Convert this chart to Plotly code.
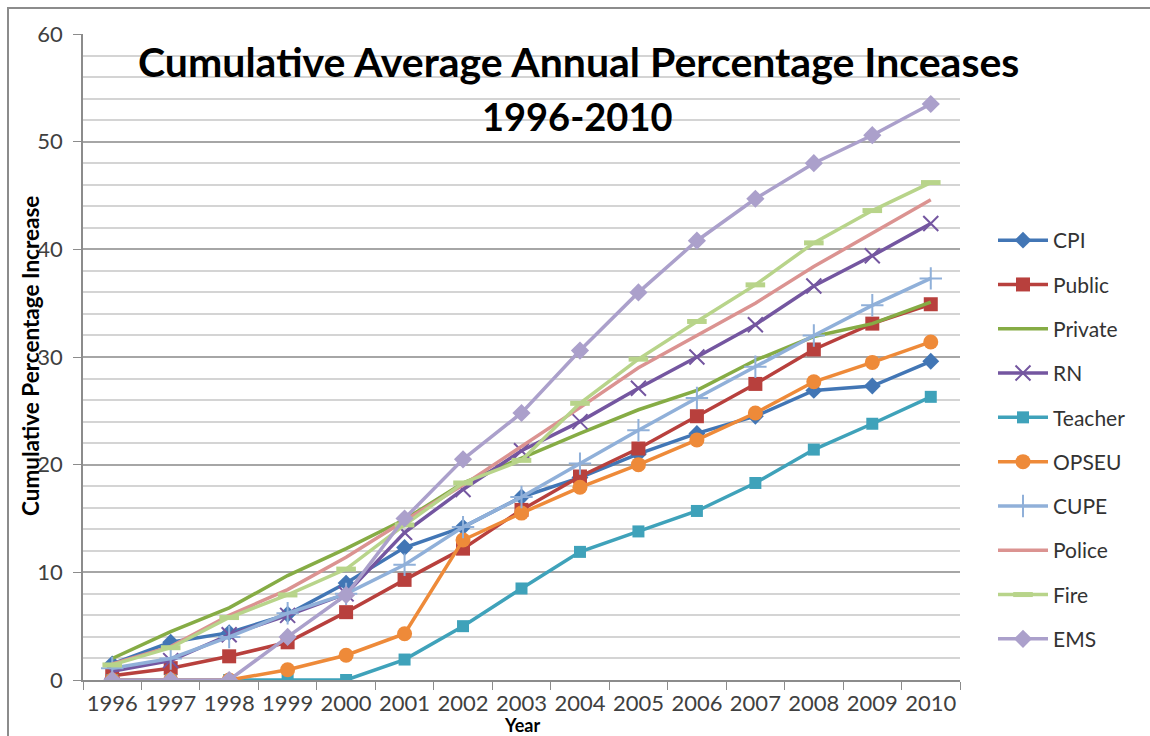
import plotly.graph_objects as go

# Categories
years = [str(y) for y in range(1996, 2011)]

# Cumulative percentage increase per group
cpi     = [1.5, 3.5, 4.4, 6.1, 9.0, 12.3, 14.2, 17.0, 18.8, 21.0, 22.9, 24.5, 26.9, 27.3, 29.6]
public  = [0.4, 1.1, 2.2, 3.5, 6.3, 9.3, 12.2, 15.8, 18.9, 21.5, 24.5, 27.5, 30.7, 33.1, 34.9]
private = [2.0, 4.5, 6.7, 9.7, 12.2, 14.9, 18.3, 20.6, 22.9, 25.1, 26.9, 29.7, 31.9, 33.1, 35.1]
rn      = [0.8, 1.8, 4.2, 6.0, 8.0, 13.7, 17.7, 21.3, 24.0, 27.1, 30.0, 33.0, 36.6, 39.4, 42.4]
teacher = [0.0, 0.0, 0.0, 0.0, 0.0, 1.9, 5.0, 8.5, 11.9, 13.8, 15.7, 18.3, 21.4, 23.8, 26.3]
opseu   = [0.0, 0.0, 0.0, 0.95, 2.3, 4.3, 13.0, 15.5, 17.9, 20.0, 22.3, 24.8, 27.7, 29.5, 31.4]
cupe    = [1.1, 2.0, 4.0, 6.2, 8.0, 10.7, 14.2, 17.0, 20.1, 23.2, 26.2, 29.1, 32.0, 34.8, 37.3]
police  = [1.5, 3.1, 6.0, 8.4, 11.4, 14.8, 18.1, 21.7, 25.3, 29.0, 32.0, 35.0, 38.4, 41.5, 44.6]
fire    = [1.4, 3.0, 5.8, 7.9, 10.3, 14.4, 18.3, 20.4, 25.7, 29.8, 33.3, 36.7, 40.6, 43.6, 46.2]
ems     = [0.0, 0.0, 0.0, 4.0, 7.9, 15.0, 20.5, 24.8, 30.6, 36.0, 40.8, 44.7, 48.0, 50.6, 53.5]

series_names = ["CPI", "Public", "Private", "RN", "Teacher",
                "OPSEU", "CUPE", "Police", "Fire", "EMS"]
series_values = [cpi, public, private, rn, teacher,
                 opseu, cupe, police, fire, ems]

styles = {
    "CPI":     dict(color="#4276B5", marker=dict(symbol="diamond", size=13)),
    "Public":  dict(color="#B8403D", marker=dict(symbol="square", size=14)),
    "Private": dict(color="#86AC45", marker=None),
    "RN":      dict(color="#7456A0", marker=dict(symbol="x-thin", size=15,
                                                  line=dict(width=2, color="#7456A0"))),
    "Teacher": dict(color="#3FA2BA", marker=dict(symbol="square", size=12)),
    "OPSEU":   dict(color="#EE8A39", marker=dict(symbol="circle", size=15)),
    "CUPE":    dict(color="#90B0D9", marker=dict(symbol="cross-thin", size=16,
                                                  line=dict(width=2, color="#90B0D9"))),
    "Police":  dict(color="#DB9391", marker=None),
    "Fire":    dict(color="#B8D48A", marker=dict(symbol="line-ew", size=14,
                                                  line=dict(width=5, color="#B8D48A"))),
    "EMS":     dict(color="#ABA0CB", marker=dict(symbol="diamond", size=14)),
}

FONT = "Lato, 'Open Sans', sans-serif"

fig = go.Figure()
for name, vals in zip(series_names, series_values):
    st = styles[name]
    mk = st["marker"]
    if mk is None:
        mode = "lines"
        marker = dict(color=st["color"])
    else:
        mode = "lines+markers"
        marker = dict(color=st["color"], **mk)
    fig.add_trace(go.Scatter(
        x=years, y=vals, name=name, mode=mode,
        line=dict(color=st["color"], width=3.5),
        marker=marker,
        legendgroup=name,
    ))

# plot area in pixels: x 83..960, y 34..680
def px_x(p):
    return (p - 83) / 877.0

def px_y(p):
    return (680 - p) / 646.0

fig.update_layout(
    width=1150, height=736, autosize=False,
    margin=dict(l=83, r=190, t=34, b=56),
    paper_bgcolor="white", plot_bgcolor="white",
    font=dict(family=FONT, color="#404040"),
    showlegend=True,
    legend=dict(
        x=px_x(993), y=px_y(220), xanchor="left", yanchor="top",
        font=dict(size=21, color="#333333", family=FONT),
        tracegroupgap=14, traceorder="grouped", itemwidth=50,
        bgcolor="rgba(0,0,0,0)",
    ),
    xaxis=dict(
        type="category", tickson="boundaries",
        ticks="outside", ticklen=8, tickcolor="#8c8c8c",
        showline=True, linecolor="#8c8c8c", linewidth=1.5,
        showgrid=False, zeroline=False,
        tickfont=dict(size=22, color="#404040", family=FONT),
        tickangle=0, automargin=False,
        ticklabelstandoff=3,
        range=[-0.5, 14.5],
    ),
    yaxis=dict(
        range=[0, 60], dtick=10, tick0=0,
        ticks="outside", ticklen=8, tickcolor="#8c8c8c",
        showline=True, linecolor="#8c8c8c", linewidth=1.5,
        showgrid=True, gridcolor="#a6a6a6", gridwidth=1.5,
        zeroline=False, automargin=False,
        tickfont=dict(size=22, color="#404040", family=FONT),
        ticklabelstandoff=6,
        minor=dict(dtick=2, showgrid=True, gridcolor="#d4d4d4", gridwidth=1.5,
                   ticks=""),
    ),
    shapes=[dict(
        type="rect", xref="paper", yref="paper",
        x0=px_x(8), y0=px_y(8), x1=px_x(1200), y1=px_y(800),
        line=dict(color="#8c8c8c", width=2), layer="below",
    )],
    annotations=[
        dict(text="<b>Cumulative Average Annual Percentage Inceases</b>",
             xref="paper", yref="paper", x=px_x(578), y=px_y(62),
             xanchor="center", yanchor="middle", showarrow=False,
             font=dict(size=41, color="black", family=FONT)),
        dict(text="<b>1996-2010</b>",
             xref="paper", yref="paper", x=px_x(577), y=px_y(116),
             xanchor="center", yanchor="middle", showarrow=False,
             font=dict(size=38, color="black", family=FONT)),
        dict(text="<b>Cumulative Percentage Increase</b>",
             xref="paper", yref="paper", x=px_x(30), y=px_y(356),
             xanchor="center", yanchor="middle", showarrow=False, textangle=-90,
             font=dict(size=22.5, color="black", family=FONT)),
        dict(text="<b>Year</b>",
             xref="paper", yref="paper", x=px_x(522), y=px_y(738),
             xanchor="center", yanchor="bottom", showarrow=False,
             font=dict(size=18, color="black", family=FONT)),
    ],
)

fig.write_html("out.html")
